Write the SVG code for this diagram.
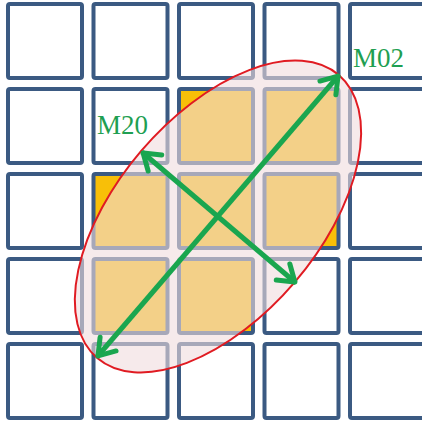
<svg xmlns="http://www.w3.org/2000/svg" width="422" height="427" viewBox="0 0 422 427">
  <style>
    .cell { fill: #ffffff; stroke: #3b5a82; stroke-width: 4; }
    .on { fill: #f8bf08; }
    .lbl { font-family: "Liberation Serif", "DejaVu Serif", serif; font-size: 27px; fill: #1f9f52; }
    .arr { stroke: #1aa64f; stroke-width: 5; fill: none; }
  </style>
  <defs>
    <marker id="chev" markerUnits="userSpaceOnUse" markerWidth="40" markerHeight="40" viewBox="-25 -20 40 40" refX="0" refY="0" orient="auto-start-reverse">
      <path d="M-17,-10.5 L-1.5,0 L-17,10.5" fill="none" stroke="#1aa64f" stroke-width="5" stroke-linejoin="round" stroke-linecap="round"/>
    </marker>
  </defs>
  <rect width="422" height="427" fill="#ffffff"/>
  <g id="grid">
    <g id="r0">
      <rect class="cell" x="8" y="4" width="74" height="74" rx="2"/>
      <rect class="cell" x="93.5" y="4" width="74" height="74" rx="2"/>
      <rect class="cell" x="179" y="4" width="74" height="74" rx="2"/>
      <rect class="cell" x="264.5" y="4" width="74" height="74" rx="2"/>
      <rect class="cell" x="350" y="4" width="74" height="74" rx="2"/>
    </g>
    <g id="r1">
      <rect class="cell" x="8" y="89" width="74" height="74" rx="2"/>
      <rect class="cell" x="93.5" y="89" width="74" height="74" rx="2"/>
      <rect class="cell on" x="179" y="89" width="74" height="74" rx="2"/>
      <rect class="cell on" x="264.5" y="89" width="74" height="74" rx="2"/>
      <rect class="cell" x="350" y="89" width="74" height="74" rx="2"/>
    </g>
    <g id="r2">
      <rect class="cell" x="8" y="174" width="74" height="74" rx="2"/>
      <rect class="cell on" x="93.5" y="174" width="74" height="74" rx="2"/>
      <rect class="cell on" x="179" y="174" width="74" height="74" rx="2"/>
      <rect class="cell on" x="264.5" y="174" width="74" height="74" rx="2"/>
      <rect class="cell" x="350" y="174" width="74" height="74" rx="2"/>
    </g>
    <g id="r3">
      <rect class="cell" x="8" y="259" width="74" height="74" rx="2"/>
      <rect class="cell on" x="93.5" y="259" width="74" height="74" rx="2"/>
      <rect class="cell on" x="179" y="259" width="74" height="74" rx="2"/>
      <rect class="cell" x="264.5" y="259" width="74" height="74" rx="2"/>
      <rect class="cell" x="350" y="259" width="74" height="74" rx="2"/>
    </g>
    <g id="r4">
      <rect class="cell" x="8" y="344" width="74" height="74" rx="2"/>
      <rect class="cell" x="93.5" y="344" width="74" height="74" rx="2"/>
      <rect class="cell" x="179" y="344" width="74" height="74" rx="2"/>
      <rect class="cell" x="264.5" y="344" width="74" height="74" rx="2"/>
      <rect class="cell" x="350" y="344" width="74" height="74" rx="2"/>
    </g>
  </g>
  <g id="region">
    <ellipse cx="218" cy="216.5" rx="186" ry="101" transform="rotate(-49.5 218 216.5)" fill="rgb(240,220,222)" fill-opacity="0.6" stroke="#e01b22" stroke-width="2"/>
  </g>
  <g id="connectors">
    <line id="m02" class="arr" x1="97" y1="357" x2="339" y2="75" marker-start="url(#chev)" marker-end="url(#chev)"/>
    <line id="m20" class="arr" x1="142" y1="152" x2="296" y2="283" marker-start="url(#chev)" marker-end="url(#chev)"/>
  </g>
  <g id="label-m20"><text class="lbl" x="97" y="134">M20</text></g>
  <g id="label-m02"><text class="lbl" x="353" y="67">M02</text></g>
</svg>
